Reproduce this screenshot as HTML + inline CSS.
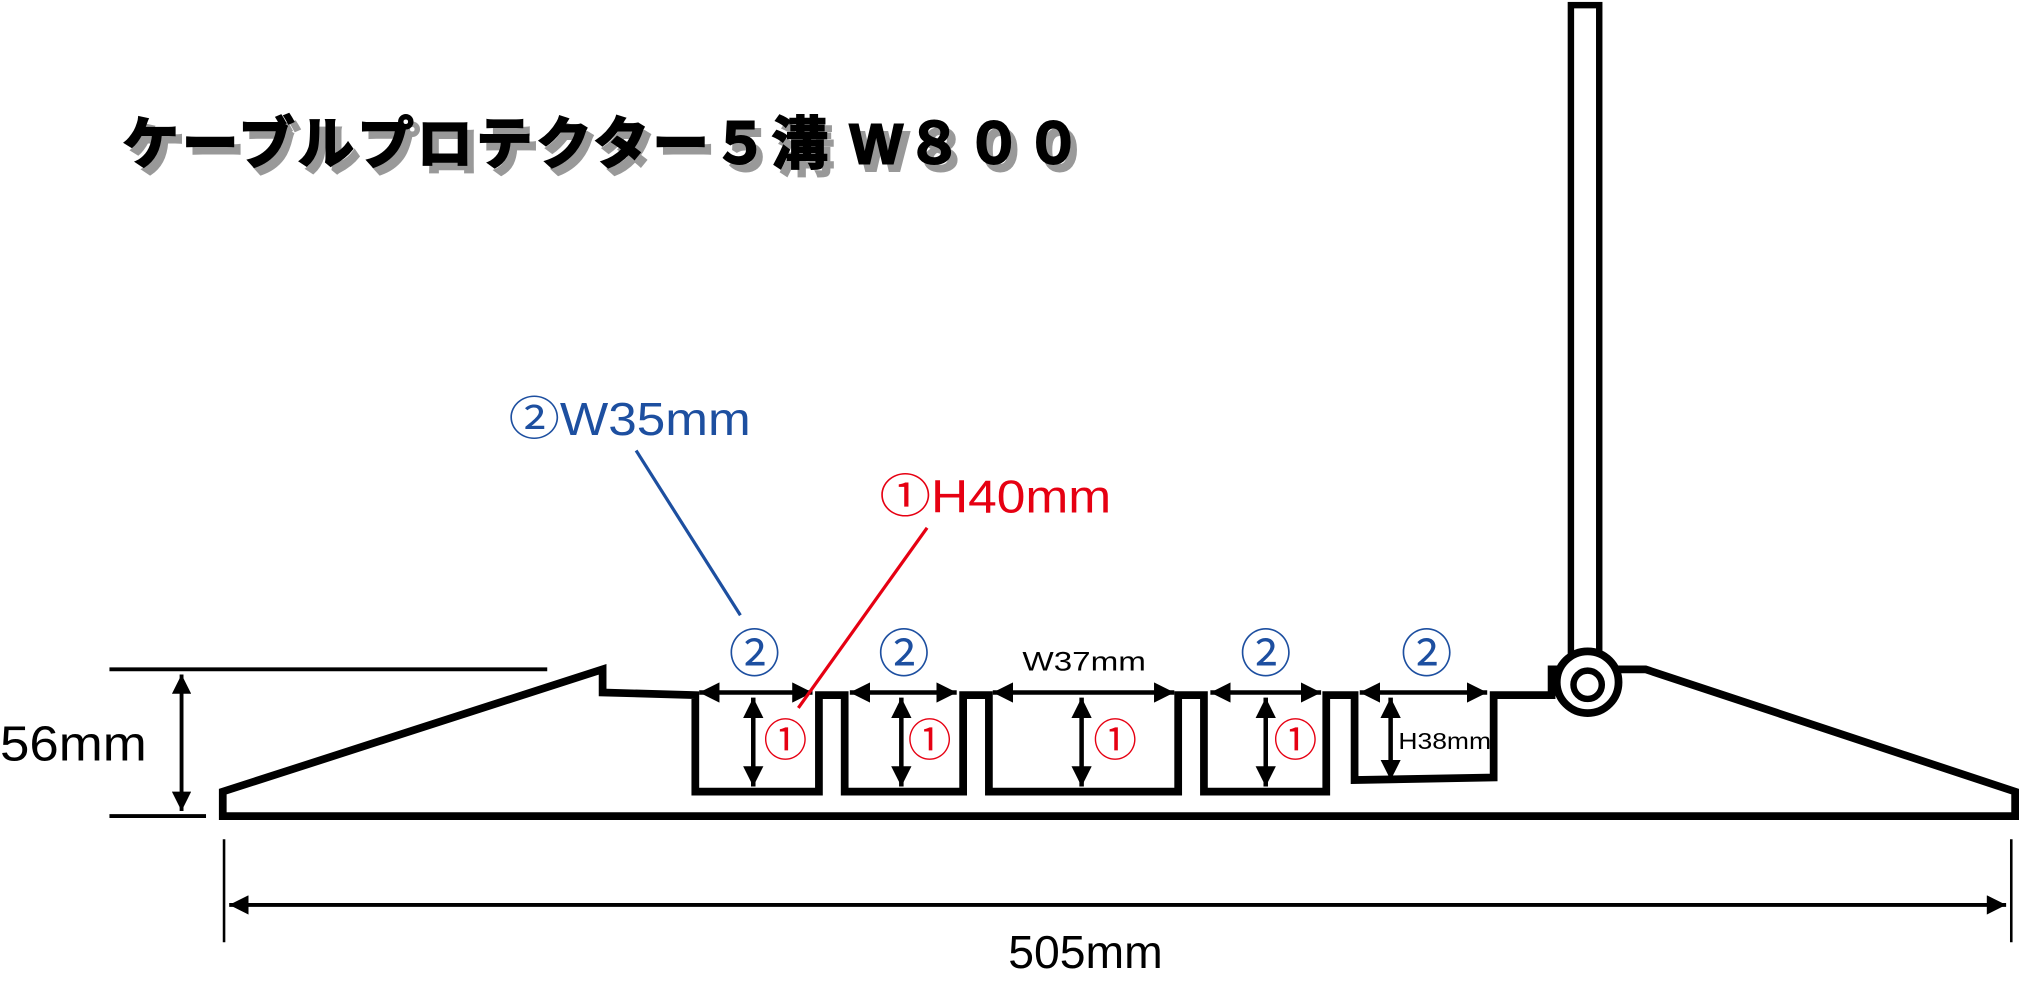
<!DOCTYPE html>
<html><head><meta charset="utf-8"><style>
html,body{margin:0;padding:0;background:#fff;}
svg{display:block;}
text{font-family:"Liberation Sans","Noto Sans CJK JP",sans-serif;}
</style></head><body>
<svg width="2019" height="986" viewBox="0 0 1568 766" preserveAspectRatio="none" xmlns="http://www.w3.org/2000/svg">
<defs>
<marker id="a" viewBox="0 0 10 10" refX="10" refY="5" markerWidth="4.5" markerHeight="4.5" orient="auto-start-reverse" markerUnits="strokeWidth"><path d="M0,0 L10,5 L0,10 z" fill="#000"/></marker>
<marker id="b" viewBox="0 0 10 10" refX="10" refY="5" markerWidth="6" markerHeight="5" orient="auto-start-reverse" markerUnits="strokeWidth"><path d="M0,0 L10,5 L0,10 z" fill="#000"/></marker>
</defs>
<g font-weight="bold" font-size="44" font-family="'Noto Sans CJK JP',sans-serif">
<text x="100" y="133" fill="#999" stroke="#999" stroke-width="1.5" textLength="745" lengthAdjust="spacing">ケーブルプロテクター５溝 W８００</text>
<text x="95" y="127" fill="#000" stroke="#000" stroke-width="1.5" textLength="745" lengthAdjust="spacing">ケーブルプロテクター５溝 W８００</text>
</g>
<!-- pole -->
<rect x="1220" y="4" width="22" height="505" fill="#fff" stroke="#000" stroke-width="5"/>
<!-- profile -->
<path d="M173,615 L468,520 L468,538 L540,540 L540,615 L636,615 L636,540 L656,540 L656,615 L748,615 L748,540 L768,540 L768,615 L915,615 L915,540 L935,540 L935,615 L1030,615 L1030,540 L1052,540 L1052,606 L1160,604 L1160,540 L1205,540 L1205,520 L1262,520 L1278,520 L1565,615 L1565,634 L173,634 Z" fill="#fff" stroke="#000" stroke-width="6" stroke-linejoin="miter"/>
<circle cx="1233" cy="530" r="24" fill="#fff" stroke="#000" stroke-width="6"/>
<circle cx="1233" cy="532" r="11" fill="#fff" stroke="#000" stroke-width="5"/>
<!-- 56mm -->
<line x1="85" y1="520" x2="425" y2="520" stroke="#000" stroke-width="3"/>
<line x1="85" y1="634" x2="160" y2="634" stroke="#000" stroke-width="3"/>
<line x1="141" y1="524" x2="141" y2="630" stroke="#000" stroke-width="3" marker-start="url(#b)" marker-end="url(#b)"/>
<text x="0" y="591" font-size="38" textLength="114" lengthAdjust="spacingAndGlyphs">56mm</text>
<!-- 505mm -->
<line x1="174" y1="652" x2="174" y2="732" stroke="#000" stroke-width="2"/>
<line x1="1562" y1="652" x2="1562" y2="732" stroke="#000" stroke-width="2"/>
<line x1="178" y1="703" x2="1558" y2="703" stroke="#000" stroke-width="3" marker-start="url(#b)" marker-end="url(#b)"/>
<text x="843" y="752" font-size="36" text-anchor="middle">505mm</text>
<!-- groove arrows -->
<g stroke="#000" stroke-width="3.5" marker-start="url(#a)" marker-end="url(#a)">
<line x1="543" y1="538" x2="631" y2="538"/>
<line x1="660" y1="538" x2="743" y2="538"/>
<line x1="771" y1="538" x2="912" y2="538"/>
<line x1="940" y1="538" x2="1026" y2="538"/>
<line x1="1056" y1="538" x2="1155" y2="538"/>
<line x1="585" y1="542" x2="585" y2="611"/>
<line x1="700" y1="542" x2="700" y2="611"/>
<line x1="840" y1="542" x2="840" y2="611"/>
<line x1="983" y1="542" x2="983" y2="611"/>
<line x1="1080" y1="542" x2="1080" y2="606"/>
</g>
<text x="794" y="521" font-size="21" textLength="96" lengthAdjust="spacingAndGlyphs">W37mm</text>
<text x="1086" y="582" font-size="18" textLength="72" lengthAdjust="spacingAndGlyphs">H38mm</text>
<g fill="#e60012" font-size="34" text-anchor="middle">
<text x="610" y="587">①</text><text x="722" y="587">①</text><text x="866" y="587">①</text><text x="1006" y="587">①</text>
</g>
<g fill="#1d4fa0" font-size="40" text-anchor="middle">
<text x="586" y="522">②</text><text x="702" y="522">②</text><text x="983" y="522">②</text><text x="1108" y="522">②</text>
</g>
<text x="395" y="338" font-size="36" fill="#1d4fa0" textLength="188" lengthAdjust="spacingAndGlyphs">②W35mm</text>
<line x1="494" y1="350" x2="575" y2="478" stroke="#1d4fa0" stroke-width="2.5"/>
<text x="683" y="398" font-size="36" fill="#e60012" textLength="180" lengthAdjust="spacingAndGlyphs">①H40mm</text>
<line x1="720" y1="410" x2="620" y2="550" stroke="#e60012" stroke-width="2.5"/>
</svg>
</body></html>
